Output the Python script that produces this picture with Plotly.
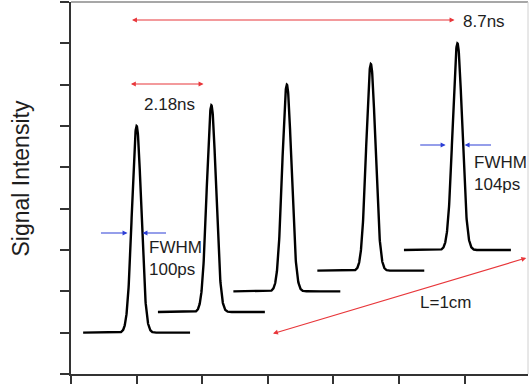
import numpy as np
import plotly.graph_objects as go

# Peak parameters (axis units)
peak_centers = [1.00, 2.14, 3.29, 4.57, 5.89]
peak_baselines = [1.0, 1.5, 2.0, 2.5, 3.0]
peak_heights = [5.0, 5.0, 5.0, 5.0, 5.0]
peak_fwhm = [0.165, 0.165, 0.165, 0.165, 0.17]
baseline_halfspan = 0.815

x_ticks = [0, 1, 2, 3, 4, 5, 6]
y_ticks = [0, 1, 2, 3, 4, 5, 6, 7, 8, 9]

fig = go.Figure()
for c, b, h, w in zip(peak_centers, peak_baselines, peak_heights, peak_fwhm):
    sigma = w / 2.3548
    xs = np.linspace(c - baseline_halfspan, c + baseline_halfspan, 601)
    ys = b + h * np.exp(-0.5 * ((xs - c) / sigma) ** 2)
    fig.add_trace(go.Scatter(x=xs, y=ys, mode="lines",
                             line=dict(color="black", width=2.4),
                             hoverinfo="skip", showlegend=False))

RED = "#e8363a"
BLUE = "#2d3fd6"
TXT = "#1e1e1e"
FONT = "Liberation Sans, Arial, sans-serif"

annotations = []

def arrow(x0, y0, x1, y1, color, both=False):
    annotations.append(dict(
        x=x1, y=y1, ax=x0, ay=y0, xref="x", yref="y", axref="x", ayref="y",
        showarrow=True, arrowhead=2, arrowsize=0.9, arrowwidth=1.1,
        arrowcolor=color, arrowside="end+start" if both else "end", text=""))

def label(x, y, text, xanchor="left"):
    annotations.append(dict(x=x, y=y, xref="x", yref="y", text=text,
                            showarrow=False, xanchor=xanchor, yanchor="middle",
                            font=dict(family=FONT, size=17, color=TXT), align="left"))

# red time arrows
arrow(0.907, 8.565, 5.846, 8.565, RED, both=True)
label(5.95, 8.53, "8.7ns")
arrow(0.89, 7.017, 2.02, 7.017, RED, both=True)
label(1.50, 6.53, "2.18ns", xanchor="center")
# L = 1cm
arrow(3.056, 0.968, 6.94, 2.807, RED, both=True)
label(5.71, 1.72, "L=1cm", xanchor="center")
# FWHM arrows peak 1
arrow(0.434, 3.41, 0.861, 3.41, BLUE)
arrow(1.471, 3.41, 1.09, 3.41, BLUE)
label(1.166, 2.80, "FWHM<br>100ps")
# FWHM arrows peak 5
arrow(5.30, 5.54, 5.71, 5.54, BLUE)
arrow(6.425, 5.54, 6.00, 5.54, BLUE)
label(6.105, 4.84, "FWHM<br>104ps")

# y-axis title
annotations.append(dict(x=0, y=0.524, xref="paper", yref="paper",
                        text="Signal Intensity", textangle=-90, showarrow=False,
                        xanchor="center", yanchor="middle", xshift=-49.5,
                        font=dict(family=FONT, size=23, color=TXT)))

fig.update_layout(
    width=530, height=384,
    margin=dict(l=71, r=2, t=2, b=10),
    paper_bgcolor="white", plot_bgcolor="white",
    annotations=annotations,
    shapes=[
        dict(type="line", xref="paper", yref="paper", x0=0, x1=1, y0=1, y1=1,
             line=dict(color="#8a8a8a", width=1.3)),
        dict(type="line", xref="paper", yref="paper", x0=1, x1=1, y0=0, y1=1,
             line=dict(color="#d0d0d0", width=1)),
    ],
)
fig.update_xaxes(range=[0, 6.966], tickvals=x_ticks, showticklabels=False,
                 ticks="outside", ticklen=9, tickwidth=1.5, tickcolor="#333",
                 showline=True, linecolor="#333", linewidth=1.5,
                 showgrid=False, zeroline=False)
fig.update_yaxes(range=[0, 9], tickvals=y_ticks, showticklabels=False,
                 ticks="outside", ticklen=9, tickwidth=1.5, tickcolor="#333",
                 showline=True, linecolor="#333", linewidth=1.5,
                 showgrid=False, zeroline=False)

fig.write_html("out.html")
